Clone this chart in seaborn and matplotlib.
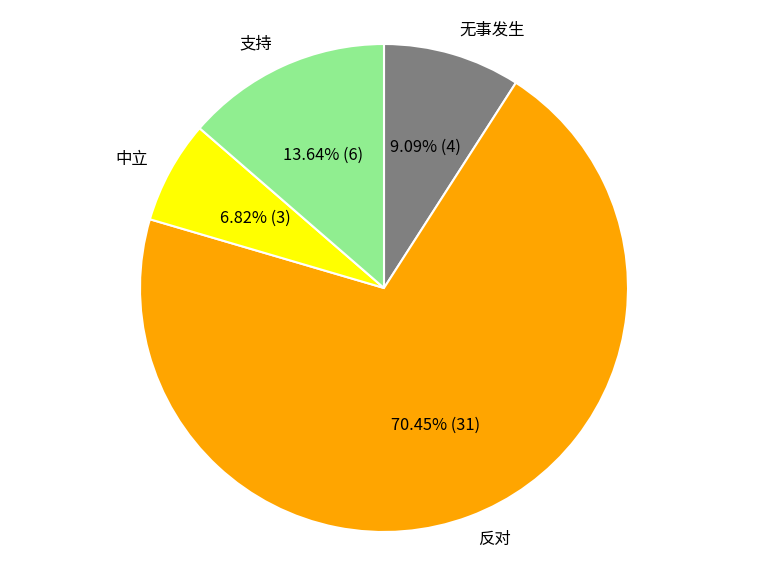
import matplotlib
matplotlib.use("Agg")
import matplotlib.pyplot as plt
import seaborn as sns

# data
labels = ["无事发生", "反对", "中立", "支持"]
counts = [4, 31, 3, 6]
colors = ["gray", "orange", "yellow", "lightgreen"]

sns.set_style("white")
plt.rcParams['font.family'] = ['Noto Sans CJK SC', 'DejaVu Sans']
plt.rcParams['text.color'] = 'black'

total = sum(counts)

def fmt(pct):
    n = int(round(pct * total / 100.0))
    return f"{pct:.2f}% ({n})"

fig = plt.figure(figsize=(7.68, 5.76), dpi=100)
ax = fig.add_axes([0, 0, 1, 1])
ax.pie(counts, labels=labels, colors=colors, autopct=fmt, startangle=90,
       counterclock=False, wedgeprops={'edgecolor': 'white', 'linewidth': 1.5},
       textprops={'fontsize': 11.8, 'color': 'black'})
r = 244
ax.set_xlim(-384 / r, 384 / r)
ax.set_ylim(-288 / r, 288 / r)
ax.set_aspect('equal', adjustable='datalim')
ax.axis('off')

fig.savefig("out.png", dpi=100)
